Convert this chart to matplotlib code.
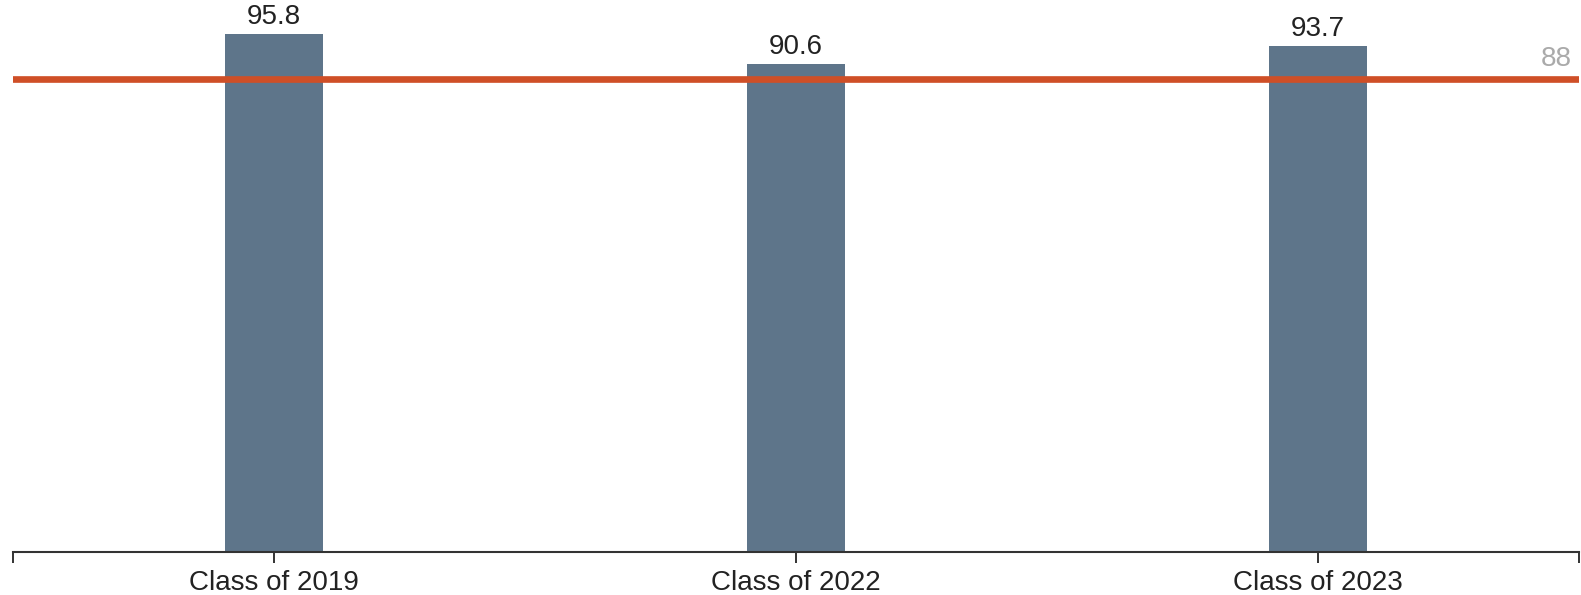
import matplotlib
matplotlib.use("Agg")
import matplotlib.pyplot as plt

categories = ["Class of 2019", "Class of 2022", "Class of 2023"]
values = [95.8, 90.6, 93.7]
target = 88

plt.rcParams['font.family'] = ['Liberation Sans', 'DejaVu Sans']

W, H = 1581, 595
fig = plt.figure(figsize=(W / 100, H / 100), dpi=100)
ax = fig.add_axes([12.7 / W, (H - 551.7) / H, 1566.3 / W, 551.7 / H])

x = list(range(len(categories)))
ax.bar(x, values, width=0.188, color="#5e758a", zorder=2)
for xi, v in zip(x, values):
    ax.annotate(f"{v}", (xi, v), xytext=(0, 3), textcoords="offset points",
                ha="center", va="bottom", fontsize=20, color="#222222")

ax.axhline(target, color="#cf4f27", lw=4.8, zorder=3)
ax.annotate(f"{target}", (1, target), xycoords=("axes fraction", "data"),
            xytext=(-5, 5), textcoords="offset points", ha="right", va="bottom",
            fontsize=20, color="#aaaaaa")

ax.set_xlim(-0.5, 2.5)
ax.set_ylim(5.54, 101.8)
ax.set_xticks(x)
ax.set_xticklabels(categories, fontsize=20, color="#222222")
ax.set_xticks([-0.5, 2.5], minor=True)
ax.tick_params(axis="x", which="both", length=8, width=1.4, color="#333333", pad=5)
ax.set_yticks([])
for s in ["top", "right", "left"]:
    ax.spines[s].set_visible(False)
ax.spines["bottom"].set_color("#333333")
ax.spines["bottom"].set_linewidth(1.5)

fig.savefig("out.png", dpi=100)
